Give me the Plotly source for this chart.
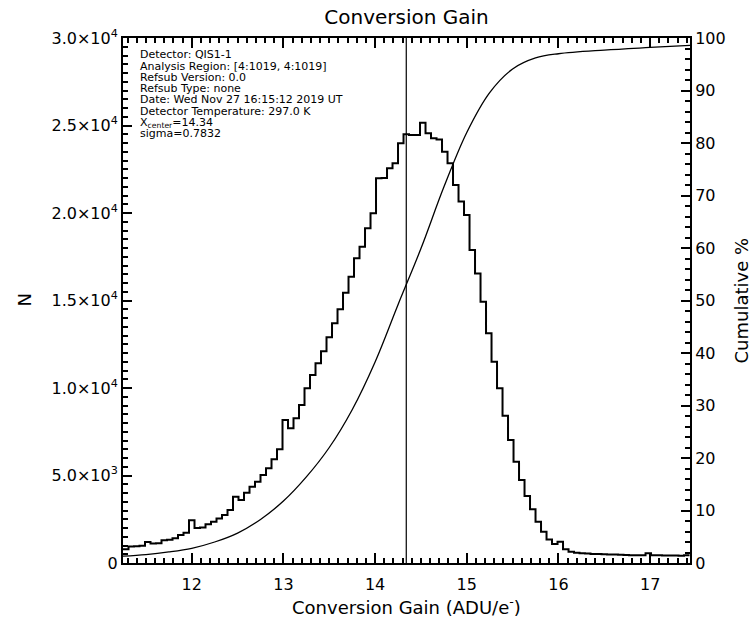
import plotly.graph_objects as go

# Histogram of per-pixel conversion gain (ADU/e-): fixed-width bins from BIN_START
BIN_START = 11.25
BIN_WIDTH = 0.06
COUNTS = [
    780, 950, 960, 980, 1200, 1110, 1130, 1300, 1330, 1420, 1600, 1730,
    2440, 2000, 2030, 2210, 2360, 2550, 2740, 3030,
    3790, 3600, 4020, 4360, 4650, 5030, 5410, 5930, 6500, 8170,
    7700, 8270, 9030, 9980, 10740, 11410, 12100, 12900, 13700, 14500,
    15450, 16360, 17410, 18070, 19130, 19980, 21980, 22000, 22550, 22840,
    23980, 24500, 24450, 24450, 25160, 24550, 24270, 24200, 23500, 22840,
    21600, 20650, 19890, 17890, 16550, 14930, 13130, 11500, 9980, 8420,
    7030, 5790, 4740, 3830, 3070, 2360, 1790, 1350, 1090, 1220,
    790, 650, 590, 560, 540, 520, 510, 500, 490, 480, 470, 460,
    450, 450, 440, 560, 450, 440, 430, 430, 430, 420, 450,
]

# Cumulative distribution of the gain values (%)
CUM_X = [11.25, 11.5, 11.75, 12.0, 12.25, 12.5, 12.75, 13.0, 13.25, 13.5,
         13.75, 14.0, 14.25, 14.5, 14.75, 15.0, 15.25, 15.5, 15.75, 16.0,
         16.5, 17.0, 17.44]
CUM_PCT = [1.3, 1.6, 2.1, 2.8, 4.0, 5.7, 8.3, 11.8, 16.4, 22.0,
           29.2, 38.3, 49.2, 59.9, 71.6, 82.0, 89.6, 94.1, 96.2, 97.0,
           97.7, 98.2, 98.6]

X_CENTER = 14.34
SIGMA = 0.7832

X_RANGE = [11.25, 17.435]
X_TICKS = [12, 13, 14, 15, 16, 17]
N_TICKS = [0, 5000, 10000, 15000, 20000, 25000, 30000]
N_TICK_TEXT = ["0", "5.0×10<sup>3</sup>", "1.0×10<sup>4</sup>", "1.5×10<sup>4</sup>",
               "2.0×10<sup>4</sup>", "2.5×10<sup>4</sup>", "3.0×10<sup>4</sup>"]
CUM_TICKS = [0, 10, 20, 30, 40, 50, 60, 70, 80, 90, 100]

INFO_LINES = [
    "Detector: QIS1-1",
    "Analysis Region: [4:1019, 4:1019]",
    "Refsub Version: 0.0",
    "Refsub Type: none",
    "Date: Wed Nov 27 16:15:12 2019 UT",
    "Detector Temperature: 297.0 K",
    f"X<sub>center</sub>={X_CENTER}",
    f"sigma={SIGMA}",
]

FONT = "DejaVu Sans"

edges = [BIN_START + BIN_WIDTH * i for i in range(len(COUNTS) + 1)]
steps = COUNTS + [COUNTS[-1]]

fig = go.Figure()
fig.add_trace(go.Scatter(
    x=edges, y=steps, mode="lines", line=dict(shape="hv", color="black", width=2),
    hoverinfo="skip",
))
fig.add_trace(go.Scatter(
    x=CUM_X, y=CUM_PCT, mode="lines", yaxis="y2",
    line=dict(shape="spline", smoothing=1.0, color="black", width=1.3),
    hoverinfo="skip",
))
fig.add_vline(x=X_CENTER, line=dict(color="black", width=1.2))

axis_common = dict(
    showline=True, linewidth=2, linecolor="black", showgrid=False, zeroline=False,
    ticks="inside", tickwidth=2, tickcolor="black",
    tickfont=dict(family=FONT, size=16, color="black"),
)

fig.update_layout(
    width=756, height=621,
    margin=dict(l=123, r=66, t=38, b=58),
    paper_bgcolor="white", plot_bgcolor="white",
    showlegend=False,
    font=dict(family=FONT, size=16, color="black"),
    title=dict(text="Conversion Gain", x=0.5, xref="paper", xanchor="center",
               y=1 - 17 / 621, yref="container", yanchor="middle",
               font=dict(family=FONT, size=20, color="black")),
    xaxis=dict(range=X_RANGE, tickvals=X_TICKS, ticklen=10, mirror="ticks",
               ticklabelstandoff=6,
               minor=dict(tick0=0, dtick=0.1, ticks="inside", ticklen=5,
                          tickwidth=1.5, tickcolor="black", showgrid=False),
               **axis_common),
    yaxis=dict(range=[0, 30000], tickvals=N_TICKS, ticktext=N_TICK_TEXT, ticklen=9,
               minor=dict(tick0=0, dtick=500, ticks="inside", ticklen=5,
                          tickwidth=1.5, tickcolor="black", showgrid=False),
               **axis_common),
    yaxis2=dict(range=[0, 100], tickvals=CUM_TICKS, overlaying="y", side="right",
                ticklen=9,
                minor=dict(tick0=0, dtick=2, ticks="inside", ticklen=5,
                           tickwidth=1.5, tickcolor="black", showgrid=False),
                **axis_common),
)

annotations = [
    dict(text="Conversion Gain (ADU/e<sup>-</sup>)", x=0.5, xref="paper", y=0, yref="paper",
         yshift=-43, xanchor="center", yanchor="middle", showarrow=False,
         font=dict(family=FONT, size=18, color="black")),
    dict(text="N", x=0, xref="paper", xshift=-99, y=0.5, yref="paper", textangle=-90,
         xanchor="center", yanchor="middle", showarrow=False,
         font=dict(family=FONT, size=18, color="black")),
    dict(text="Cumulative %", x=1, xref="paper", xshift=51, y=0.5, yref="paper",
         textangle=-90, xanchor="center", yanchor="middle", showarrow=False,
         font=dict(family=FONT, size=18, color="black")),
]
for i, line in enumerate(INFO_LINES):
    annotations.append(dict(
        text=line, x=0, xref="paper", xshift=15, y=1, yref="paper",
        yshift=-(16.7 + 11.3 * i), xanchor="left", yanchor="middle", showarrow=False,
        font=dict(family=FONT, size=11, color="black"),
    ))
fig.update_layout(annotations=annotations)

fig.write_html("out.html")
